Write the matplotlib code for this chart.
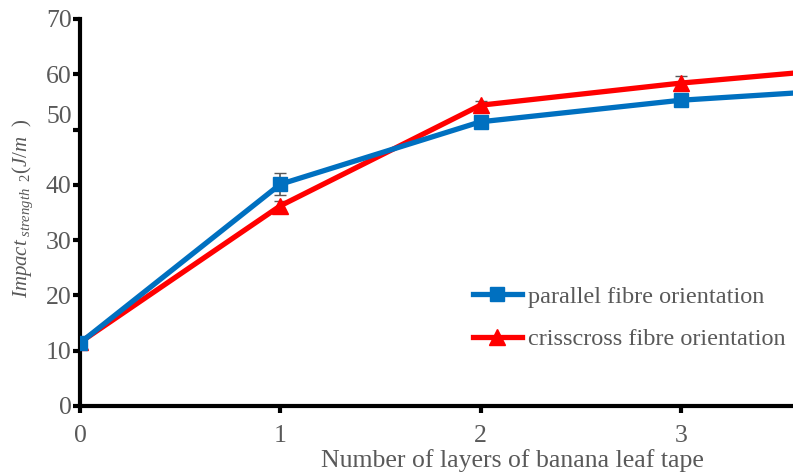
import matplotlib.pyplot as plt
from matplotlib.transforms import ScaledTranslation

plt.rcParams['font.family'] = ['Liberation Serif', 'DejaVu Serif']
plt.rcParams['mathtext.fontset'] = 'custom'
plt.rcParams['mathtext.it'] = 'Liberation Serif:italic'
plt.rcParams['mathtext.rm'] = 'Liberation Serif'

# data
layers = [0, 1, 2, 3, 4]
parallel = [11.4, 40.1, 51.4, 55.3, 57.6]
parallel_err = [0.5, 2.0, 0.6, 0.6, 0.6]
crisscross = [11.5, 36.2, 54.4, 58.4, 61.6]
crisscross_err = [0.5, 0.8, 0.8, 1.3, 0.8]
yticks = [0, 10, 20, 30, 40, 50, 60, 70]
xticks = [0, 1, 2, 3]

grey = '#595959'
fig = plt.figure(figsize=(7.93, 4.74), dpi=100)
ax = fig.add_axes([0.1009, 0.1435, 0.899, 0.8165])

# error bars first, then the lines with markers
ax.errorbar(layers, parallel, yerr=parallel_err, fmt='none', ecolor=grey,
            elinewidth=1.2, capsize=4, zorder=1)
ax.errorbar(layers, crisscross, yerr=crisscross_err, fmt='none', ecolor=grey,
            elinewidth=1.2, capsize=4, zorder=1)
ax.plot(layers, parallel, color='#0070C0', lw=3.8, marker='s', ms=10,
        label='parallel fibre orientation', zorder=3)
ax.plot(layers, crisscross, color='#FF0000', lw=3.8, marker='^', ms=11,
        label='crisscross fibre orientation', zorder=2)

ax.set_xlim(0, 3.56)
ax.set_ylim(0, 70)
ax.set_xticks(xticks)
ax.set_yticks(yticks)
ax.spines['top'].set_visible(False)
ax.spines['right'].set_visible(False)
for s in ['left', 'bottom']:
    ax.spines[s].set_linewidth(3)
ax.tick_params(axis='both', width=3, length=5, labelsize=18.5, labelcolor=grey)
ax.tick_params(axis='y', pad=1)
ax.tick_params(axis='x', pad=9)

# the "50" label sits a bit above its tick in the original
for lab in ax.get_yticklabels():
    if lab.get_text() == '50':
        lab.set_transform(lab.get_transform() + ScaledTranslation(0, 0.15, fig.dpi_scale_trans))

ax.set_xlabel('Number of layers of banana leaf tape', fontsize=18.5, color=grey)
ax.xaxis.set_label_coords(0.606, -0.11)
ax.set_ylabel(r'$Impact_{\ strength\ \ 2}(J/m\ \ )$', fontsize=15, color=grey)
ax.yaxis.set_label_coords(-0.063, 0.51)

ax.legend(loc='upper left', bbox_to_anchor=(0.537, 0.336), frameon=False,
          fontsize=17.5, handlelength=2.05, handletextpad=0.25,
          labelcolor=grey, labelspacing=0.85, borderaxespad=0)

plt.savefig('out.png', dpi=100)
